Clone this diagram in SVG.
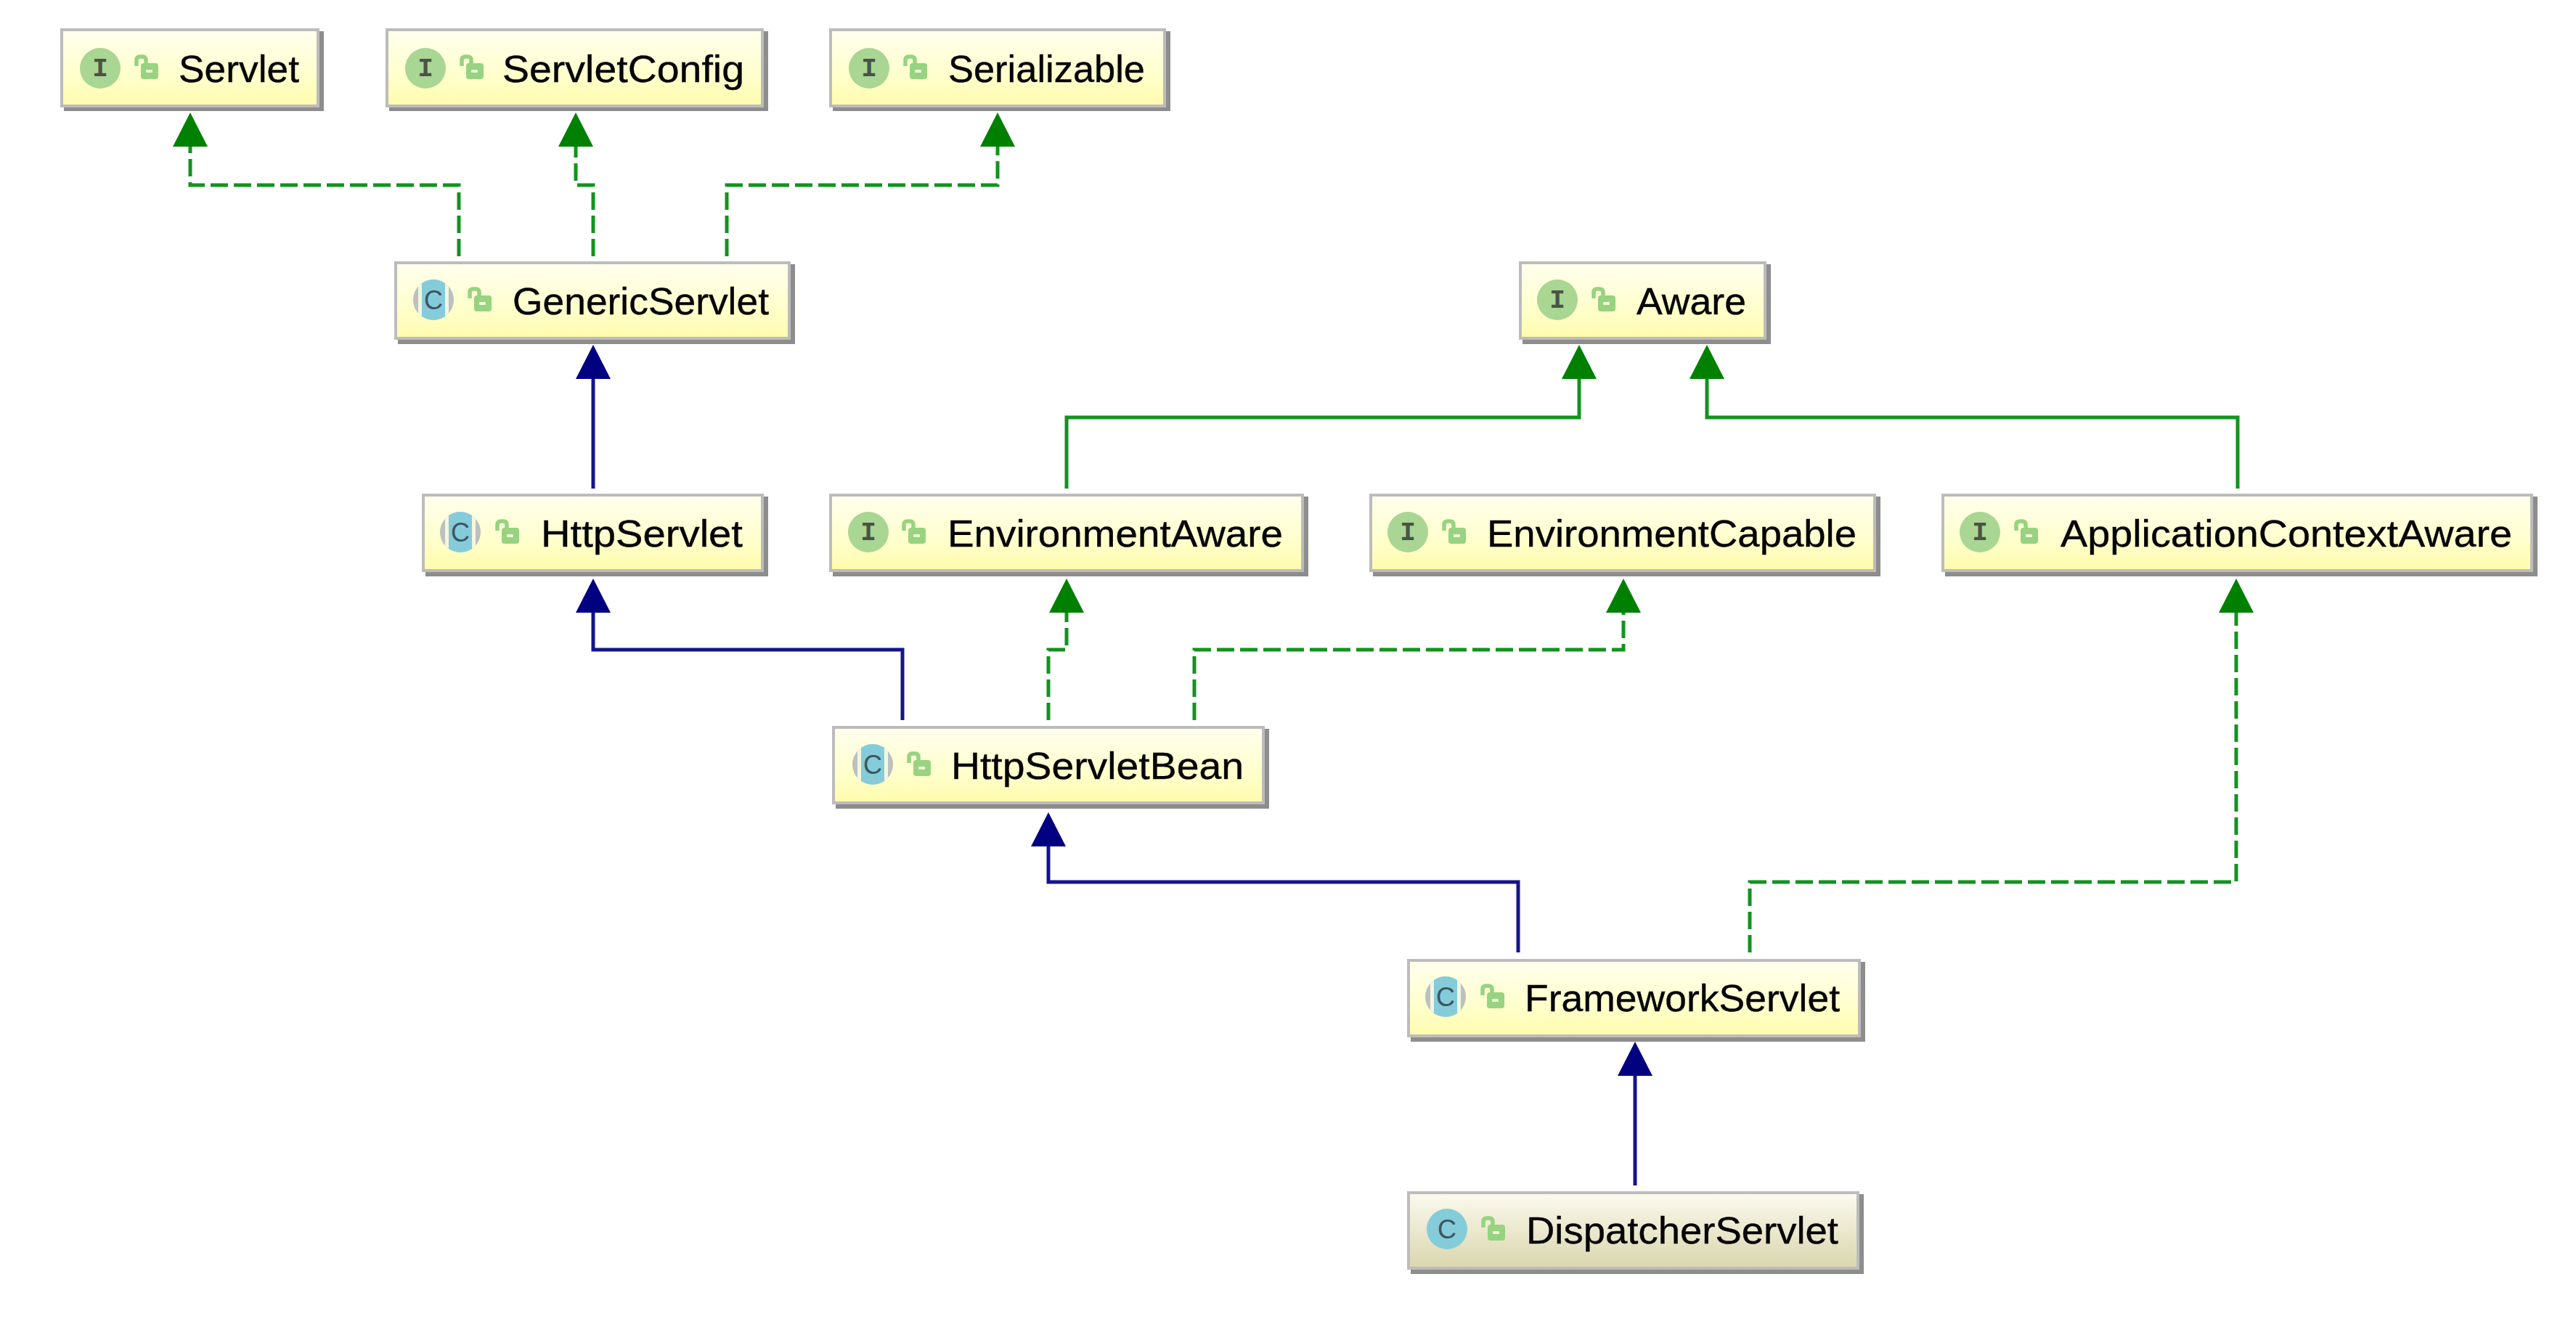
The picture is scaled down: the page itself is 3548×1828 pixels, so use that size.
<svg xmlns="http://www.w3.org/2000/svg" width="3548" height="1828" viewBox="0 0 3548 1828">
<style>
.box{fill:url(#y);stroke:#bcbcbc;stroke-width:4}
.box2{fill:url(#d);stroke:#bcbcbc;stroke-width:4}
.sh{fill:#8d8d8d}
text{font-family:"Liberation Sans",Arial,sans-serif}
.t{font-size:52px;fill:#050505;stroke:#050505;stroke-width:0.4}
.i{font-family:"Liberation Mono",monospace;font-weight:bold;font-size:36px;fill:#4a5248;text-anchor:middle}
.c{font-size:36px;fill:#3f5560;text-anchor:middle}
.g{fill:none;stroke:#12931f;stroke-width:5;stroke-dasharray:24 8}
.gs{fill:none;stroke:#12931f;stroke-width:5}
.n{fill:none;stroke:#14148f;stroke-width:5}
.ag{fill:#008000}.an{fill:#000080}
</style>
<defs>
<linearGradient id="y" x1="0" y1="0" x2="0" y2="1"><stop offset="0" stop-color="#ffffee"/><stop offset="0.6" stop-color="#ffffcc"/><stop offset="1" stop-color="#fffbab"/></linearGradient>
<linearGradient id="d" x1="0" y1="0" x2="0" y2="1"><stop offset="0" stop-color="#fbfaee"/><stop offset="1" stop-color="#dad6ae"/></linearGradient>
<polygon id="ah" points="0,0 -24,47 24,47"/>
<g id="lock"><path d="M2,12V4Q2,-1 7,-1H10Q15,-1 15,4V10" fill="none" stroke="#97d380" stroke-width="5.5"/><rect x="8" y="8" width="24" height="22" rx="4" fill="#97d380"/><rect x="15" y="17" width="9" height="4" rx="1" fill="#f4f8d8"/></g>
<circle id="ci" r="28" fill="#a9d692"/>
<circle id="cc" r="28" fill="#84ccd9"/>
<clipPath id="cp"><circle r="28"/></clipPath>
<g id="ca" clip-path="url(#cp)"><rect x="-28" y="-28" width="56" height="56" fill="#bcc0bf"/><rect x="-21" y="-28" width="42" height="56" fill="#f4f6e0"/><rect x="-16" y="-28" width="32" height="56" fill="#84ccd9"/></g>
</defs>
<rect width="3548" height="1828" fill="#fff"/>
<g id="connectors">
<path class="g" d="M632,353V255H262V200"/><use href="#ah" class="ag" x="262" y="155"/>
<path class="g" d="M817,353V255H793V200"/><use href="#ah" class="ag" x="793" y="155"/>
<path class="g" d="M1001,353V255H1374V200"/><use href="#ah" class="ag" x="1374" y="155"/>
<path class="n" d="M817,673V520"/><use href="#ah" class="an" x="817" y="475"/>
<path class="gs" d="M1469,673V575H2175V520"/><use href="#ah" class="ag" x="2175" y="475"/>
<path class="gs" d="M3082,673V575H2351V520"/><use href="#ah" class="ag" x="2351" y="475"/>
<path class="n" d="M1243,992V895H817V842"/><use href="#ah" class="an" x="817" y="797"/>
<path class="g" d="M1444,992V895H1469V842"/><use href="#ah" class="ag" x="1469" y="797"/>
<path class="g" d="M1645,992V895H2236V842"/><use href="#ah" class="ag" x="2236" y="797"/>
<path class="g" d="M2410,1312V1215H3080V842"/><use href="#ah" class="ag" x="3080" y="797"/>
<path class="n" d="M2091,1312V1215H1444V1164"/><use href="#ah" class="an" x="1444" y="1119"/>
<path class="n" d="M2252,1633V1480"/><use href="#ah" class="an" x="2252" y="1435"/>
</g>
<g id="Servlet"><rect class="sh" x="88" y="43" width="358" height="110"/><rect class="box" x="85" y="41" width="353" height="105"/><use href="#ci" x="138" y="94"/><text class="i" x="138" y="105">I</text><use href="#lock" x="186" y="79"/><text class="t" x="246" y="113" textLength="166" lengthAdjust="spacingAndGlyphs">Servlet</text></g>
<g id="ServletConfig"><rect class="sh" x="536" y="43" width="522" height="110"/><rect class="box" x="533" y="41" width="517" height="105"/><use href="#ci" x="586" y="94"/><text class="i" x="586" y="105">I</text><use href="#lock" x="634" y="79"/><text class="t" x="692" y="113" textLength="333" lengthAdjust="spacingAndGlyphs">ServletConfig</text></g>
<g id="Serializable"><rect class="sh" x="1147" y="43" width="465" height="110"/><rect class="box" x="1144" y="41" width="460" height="105"/><use href="#ci" x="1197" y="94"/><text class="i" x="1197" y="105">I</text><use href="#lock" x="1245" y="79"/><text class="t" x="1306" y="113" textLength="271" lengthAdjust="spacingAndGlyphs">Serializable</text></g>
<g id="GenericServlet"><rect class="sh" x="548" y="364" width="547" height="110"/><rect class="box" x="545" y="362" width="542" height="104"/><use href="#ca" x="597" y="413"/><text class="c" x="597" y="426">C</text><use href="#lock" x="645" y="399"/><text class="t" x="706" y="433" textLength="353" lengthAdjust="spacingAndGlyphs">GenericServlet</text></g>
<g id="Aware"><rect class="sh" x="2097" y="364" width="342" height="110"/><rect class="box" x="2094" y="362" width="337" height="104"/><use href="#ci" x="2145" y="413"/><text class="i" x="2145" y="424">I</text><use href="#lock" x="2193" y="399"/><text class="t" x="2254" y="433" textLength="151" lengthAdjust="spacingAndGlyphs">Aware</text></g>
<g id="HttpServlet"><rect class="sh" x="586" y="684" width="472" height="110"/><rect class="box" x="583" y="682" width="467" height="104"/><use href="#ca" x="634" y="733"/><text class="c" x="634" y="746">C</text><use href="#lock" x="683" y="719"/><text class="t" x="745" y="753" textLength="278" lengthAdjust="spacingAndGlyphs">HttpServlet</text></g>
<g id="EnvironmentAware"><rect class="sh" x="1147" y="684" width="655" height="110"/><rect class="box" x="1144" y="682" width="650" height="104"/><use href="#ci" x="1196" y="733"/><text class="i" x="1196" y="744">I</text><use href="#lock" x="1243" y="719"/><text class="t" x="1305" y="753" textLength="462" lengthAdjust="spacingAndGlyphs">EnvironmentAware</text></g>
<g id="EnvironmentCapable"><rect class="sh" x="1891" y="684" width="699" height="110"/><rect class="box" x="1888" y="682" width="694" height="104"/><use href="#ci" x="1939" y="733"/><text class="i" x="1939" y="744">I</text><use href="#lock" x="1987" y="719"/><text class="t" x="2048" y="753" textLength="509" lengthAdjust="spacingAndGlyphs">EnvironmentCapable</text></g>
<g id="ApplicationContextAware"><rect class="sh" x="2679" y="684" width="816" height="110"/><rect class="box" x="2676" y="682" width="811" height="104"/><use href="#ci" x="2727" y="733"/><text class="i" x="2727" y="744">I</text><use href="#lock" x="2775" y="719"/><text class="t" x="2838" y="753" textLength="622" lengthAdjust="spacingAndGlyphs">ApplicationContextAware</text></g>
<g id="HttpServletBean"><rect class="sh" x="1151" y="1004" width="597" height="110"/><rect class="box" x="1148" y="1002" width="592" height="104"/><use href="#ca" x="1202" y="1053"/><text class="c" x="1202" y="1066">C</text><use href="#lock" x="1250" y="1039"/><text class="t" x="1310" y="1073" textLength="403" lengthAdjust="spacingAndGlyphs">HttpServletBean</text></g>
<g id="FrameworkServlet"><rect class="sh" x="1943" y="1325" width="626" height="110"/><rect class="box" x="1940" y="1323" width="621" height="104"/><use href="#ca" x="1991" y="1373"/><text class="c" x="1991" y="1386">C</text><use href="#lock" x="2040" y="1359"/><text class="t" x="2100" y="1393" textLength="434" lengthAdjust="spacingAndGlyphs">FrameworkServlet</text></g>
<g id="DispatcherServlet"><rect class="sh" x="1943" y="1645" width="624" height="110"/><rect class="box2" x="1940" y="1643" width="619" height="104"/><use href="#cc" x="1993" y="1693"/><text class="c" x="1993" y="1706">C</text><use href="#lock" x="2041" y="1679"/><text class="t" x="2102" y="1713" textLength="430" lengthAdjust="spacingAndGlyphs">DispatcherServlet</text></g>
</svg>
